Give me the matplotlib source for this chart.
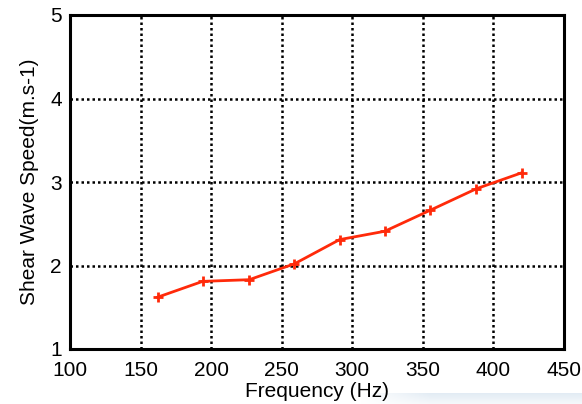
import matplotlib
matplotlib.use("Agg")
import matplotlib.pyplot as plt
import numpy as np

# Shear wave speed measured at each excitation frequency
frequency_hz = [162, 194, 227, 259, 291, 323, 355, 388, 420]
speed_ms = [1.62, 1.81, 1.83, 2.02, 2.31, 2.41, 2.66, 2.92, 3.11]

x_ticks = [100, 150, 200, 250, 300, 350, 400, 450]
y_ticks = [1, 2, 3, 4, 5]

plt.rcParams["font.family"] = ["Liberation Sans", "DejaVu Sans"]

W, H = 582, 404
fig = plt.figure(figsize=(W / 100, H / 100), dpi=100)

# faint bluish band along the bottom edge of the page
bg = fig.add_axes([0, 0, 1, 11 / H], zorder=-5)
gx = np.linspace(0, 1, 300)
gy = np.linspace(0, 1, 20)[:, None]
alpha = np.clip((gx - 0.62) / 0.12, 0, 1)[None, :] * (0.35 + 0.65 * (1 - gy))
rgba = np.zeros((20, 300, 4))
rgba[..., 0] = 0.87
rgba[..., 1] = 0.91
rgba[..., 2] = 0.95
rgba[..., 3] = alpha * 0.85
bg.imshow(rgba, aspect="auto", extent=[0, 1, 0, 1], origin="upper")
bg.set_axis_off()

ax = fig.add_axes([70 / W, 1 - 349 / H, 494 / W, 334 / H])

ax.plot(frequency_hz, speed_ms, color="#ff2a0a", linewidth=2.0,
        marker="+", markersize=7.5, markeredgewidth=2.0, zorder=3)

ax.set_xlim(100, 450)
ax.set_ylim(1, 5)
ax.set_xticks(x_ticks)
ax.set_yticks(y_ticks)
ax.grid(True, color="black", linestyle=(0, (1.0, 1.2)), linewidth=1.8)
ax.tick_params(direction="in", length=0, labelsize=15)
ax.tick_params(axis="x", pad=9)
ax.tick_params(axis="y", pad=6)

for s in ax.spines.values():
    s.set_linewidth(2.2)

ax.set_xlabel("Frequency (Hz)", fontsize=15, labelpad=1)
ax.set_ylabel("Shear Wave Speed(m.s-1)", fontsize=15, labelpad=8)

fig.savefig("out.png", dpi=100)
